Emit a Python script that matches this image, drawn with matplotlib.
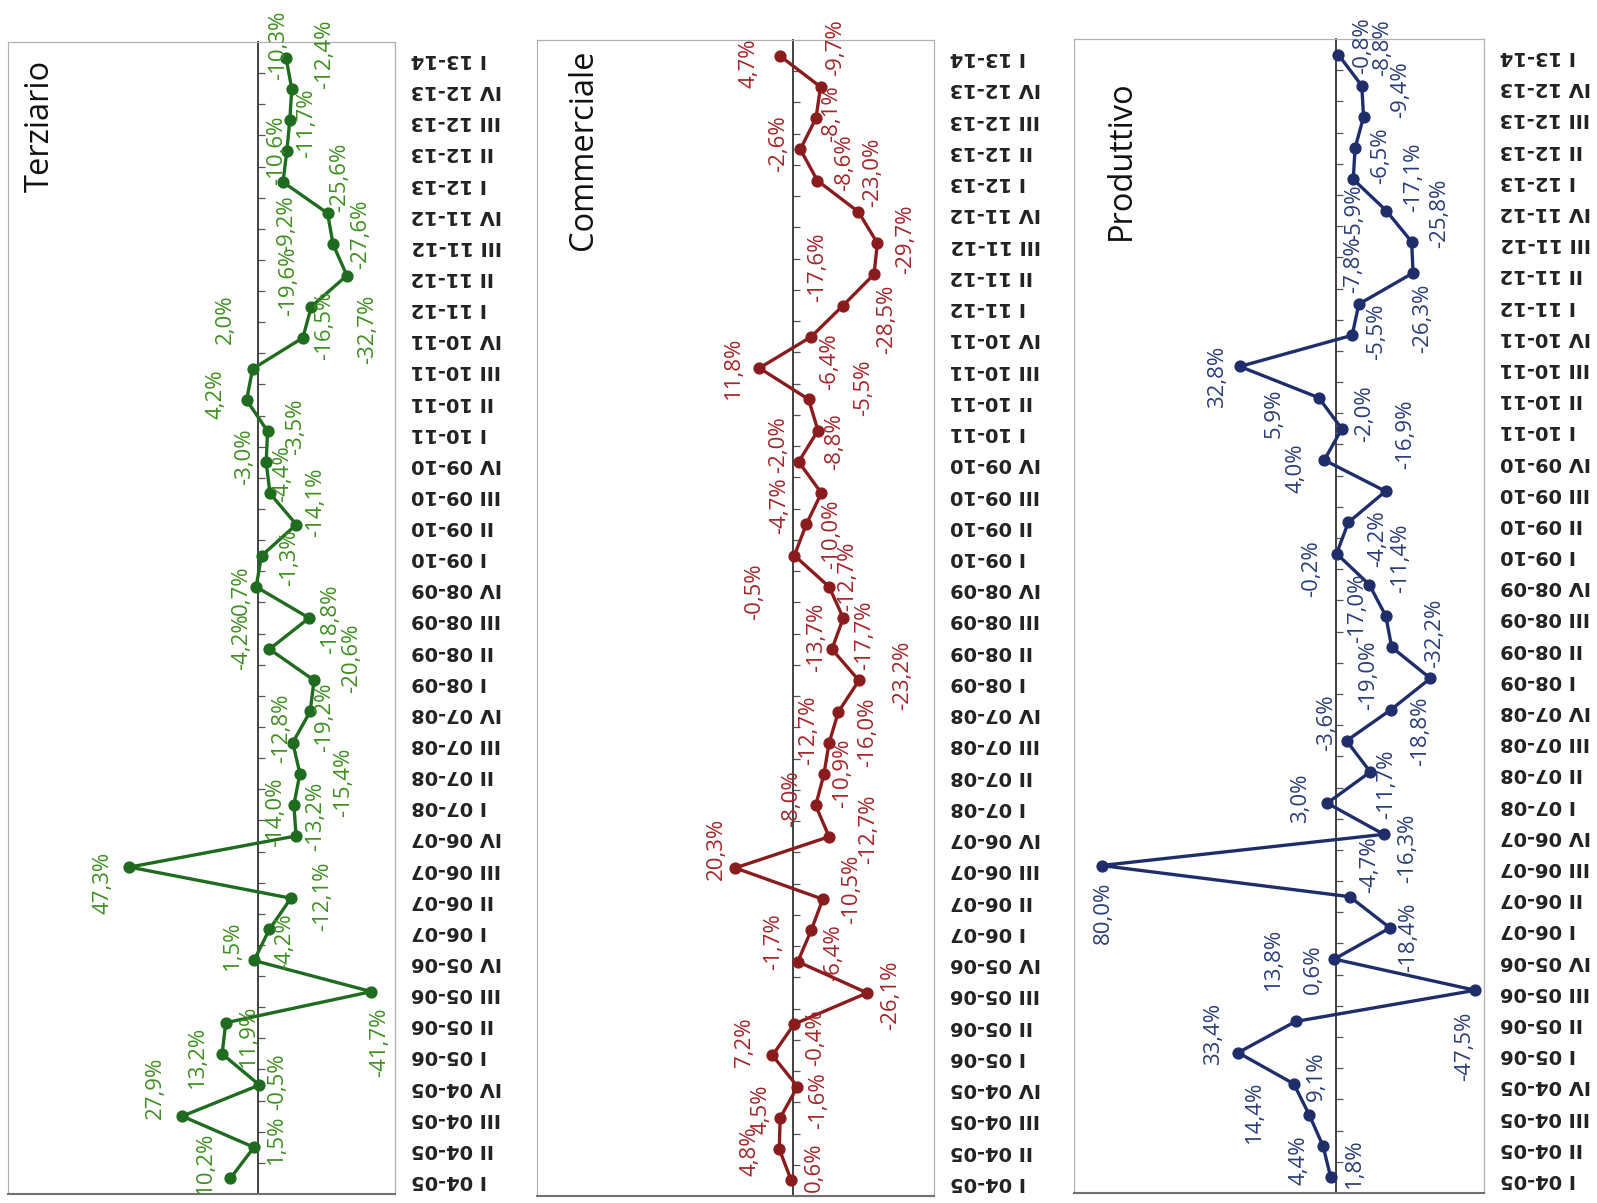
import numpy as np
import matplotlib
matplotlib.use("Agg")
import matplotlib.pyplot as plt
from matplotlib.patches import Rectangle
from matplotlib.ticker import FixedLocator

# categories: quarters from I 04-05 to I 13-14
years = ['04-05', '05-06', '06-07', '07-08', '08-09', '09-10', '10-11', '11-12', '12-13']
quarters = ['I', 'II', 'III', 'IV']
periods = [q + ' ' + y for y in years for q in quarters] + ['I 13-14']

terziario = [10.2, 1.5, 27.9, -0.5, 13.2, 11.9, -41.7, 1.5,
             -4.2, -12.1, 47.3, -14.0, -13.2, -15.4, -12.8, -19.2,
             -20.6, -4.2, -18.8, 0.7, -1.3, -14.1, -4.4, -3.0,
             -3.5, 4.2, 2.0, -16.5, -19.6, -32.7, -27.6, -25.6,
             -9.2, -10.6, -11.7, -12.4, -10.3]

commerciale = [0.6, 4.8, 4.5, -1.6, 7.2, -0.4, -26.1, -1.7,
               -6.4, -10.5, 20.3, -12.7, -8.0, -10.9, -12.7, -16.0,
               -23.2, -13.7, -17.7, -12.7, -0.5, -4.7, -10.0, -2.0,
               -8.8, -5.5, 11.8, -6.4, -17.6, -28.5, -29.7, -23.0,
               -8.6, -2.6, -8.1, -9.7, 4.7]

produttivo = [1.8, 4.4, 9.1, 14.4, 33.4, 13.8, -47.5, 0.6,
              -18.4, -4.7, 80.0, -16.3, 3.0, -11.7, -3.6, -18.8,
              -32.2, -19.0, -17.0, -11.4, -0.2, -4.2, -16.9, 4.0,
              -2.0, 5.9, 32.8, -5.5, -7.8, -26.3, -25.8, -17.1,
              -5.9, -6.5, -9.4, -8.8, -0.8]

# label offsets (dx, dy) relative to each point
off_terz = [(-24, 15), (22, 8), (-26, 27), (18, 3), (-24, -3), (22, -13), (8, -49), (-21, 15),
            (15, -12), (31, 2), (-26, -15), (-20, 23), (21, -11), (42, -8), (-11, 14), (14, -6),
            (36, 21), (-27, 7), (21, -1), (-14, -3), (27, -2), (19, 22), (12, 19), (-21, 5),
            (27, 4), (-30, 6), (-26, 48), (21, 12), (-22, 25), (20, -52), (27, 10), (12, 35),
            (3, -40), (-10, 1), (16, -3), (32, 33), (-7, 12)]
off_comm = [(22, 13), (-28, -2), (-19, 8), (20, -14), (-27, 13), (21, -13), (23, -2), (-23, 19),
            (22, -21), (28, 10), (-18, 18), (38, 7), (-23, 7), (18, 1), (-20, 12), (28, -20),
            (42, 5), (-15, 12), (21, -17), (18, 10), (-38, -35), (-26, 18), (10, -40), (-19, 17),
            (16, -11), (53, 11), (-25, 0), (18, -24), (-25, 37), (12, -44), (27, 4), (14, 38),
            (26, 17), (-21, 6), (15, 4), (15, 38), (-30, -7)]
off_prod = [(23, 14), (-23, -13), (7, 37), (-38, -27), (-23, 18), (-21, 60), (-10, -54), (-20, -10),
            (18, -9), (19, 31), (2, -45), (23, -13), (-25, 5), (16, -12), (-19, 17), (28, -21),
            (4, 43), (-22, -27), (-27, 7), (30, 25), (-24, -14), (28, -15), (19, 54), (-27, -8),
            (22, 15), (-43, -15), (-21, -10), (23, 3), (-5, 38), (9, -43), (27, 27), (26, 32),
            (1, -32), (24, -7), (35, 26), (20, 36), (23, 9)]

W, H = 1597, 1203
fig = plt.figure(figsize=(W / 100, H / 100), dpi=100)

# title, values, label offsets, offset scale, line colour, text colour,
# box (left, top, width, bottom) in px, x range, title centre
panels = [
    ('Terziario', terziario, off_terz, 1.033, '#1f6b1f', '#3f8f22',
     (8, 42, 387, 1194), (92.0, -50.4), (40, 126)),
    ('Commerciale', commerciale, off_comm, 1.033, '#8a1c1e', '#a3262a',
     (537, 40, 397, 1196), (90.0, -49.6), (583, 150)),
    ('Produttivo', produttivo, off_prod, 1.047, '#1f2e6b', '#2b3d7a',
     (1074, 39, 410, 1193), (89.4, -50.5), (1121, 160)),
]

y = np.arange(len(periods))

for title, vals, offs, k, lc, tc, (px, ptop, pw, pbot), xr, (tx, ty) in panels:
    ax = fig.add_axes([px / W, (H - pbot) / H, pw / W, (pbot - ptop) / H])
    ax.plot(vals, y, color=lc, lw=2.4, marker='o', ms=7.8, zorder=3)
    ax.set_xlim(*xr)
    ax.set_ylim(-0.5, len(periods) - 0.5)

    for v, yi, (dx, dy) in zip(vals, y, offs):
        s = f"{v:.1f}".replace('.', ',') + '%'
        ax.annotate(s, (v, yi), xytext=(dx * k, dy * k), textcoords='offset pixels',
                    rotation=90, ha='center', va='center', color=tc,
                    fontsize=16, family='Open Sans', zorder=4)

    # frame
    for side in ['top', 'right']:
        ax.spines[side].set_color('#b0b0b0')
        ax.spines[side].set_linewidth(0.8)
    ax.spines['bottom'].set_color('#707070')
    ax.spines['bottom'].set_linewidth(1.5)
    ax.spines['left'].set_position(('data', 0))
    ax.spines['left'].set_color('#333333')
    ax.spines['left'].set_linewidth(1.3)
    ax.add_patch(Rectangle((0, 0), 1, 1, transform=ax.transAxes, fill=False,
                           ec='#b0b0b0', lw=0.8, clip_on=False, zorder=0))

    ax.tick_params(axis='x', bottom=False, labelbottom=False)
    ax.set_yticks(y)
    ax.set_yticklabels(periods, family='DejaVu Sans', fontsize=14, fontweight='bold',
                       color='#222222')
    ax.tick_params(axis='y', which='major', left=False, right=True, labelleft=False,
                   labelright=True, length=0, pad=11.5, labelrotation=180)
    ax.yaxis.set_minor_locator(FixedLocator(np.arange(0.5, len(periods) - 1, 1)))
    ax.tick_params(axis='y', which='minor', left=True, right=False, direction='in',
                   length=5, width=0.9, color='#555555')

    fig.text(tx / W, 1 - ty / H, title, rotation=90, ha='center', va='center',
             fontsize=23.5, family='Open Sans', color='#111111')

fig.savefig('out.png', dpi=100)
